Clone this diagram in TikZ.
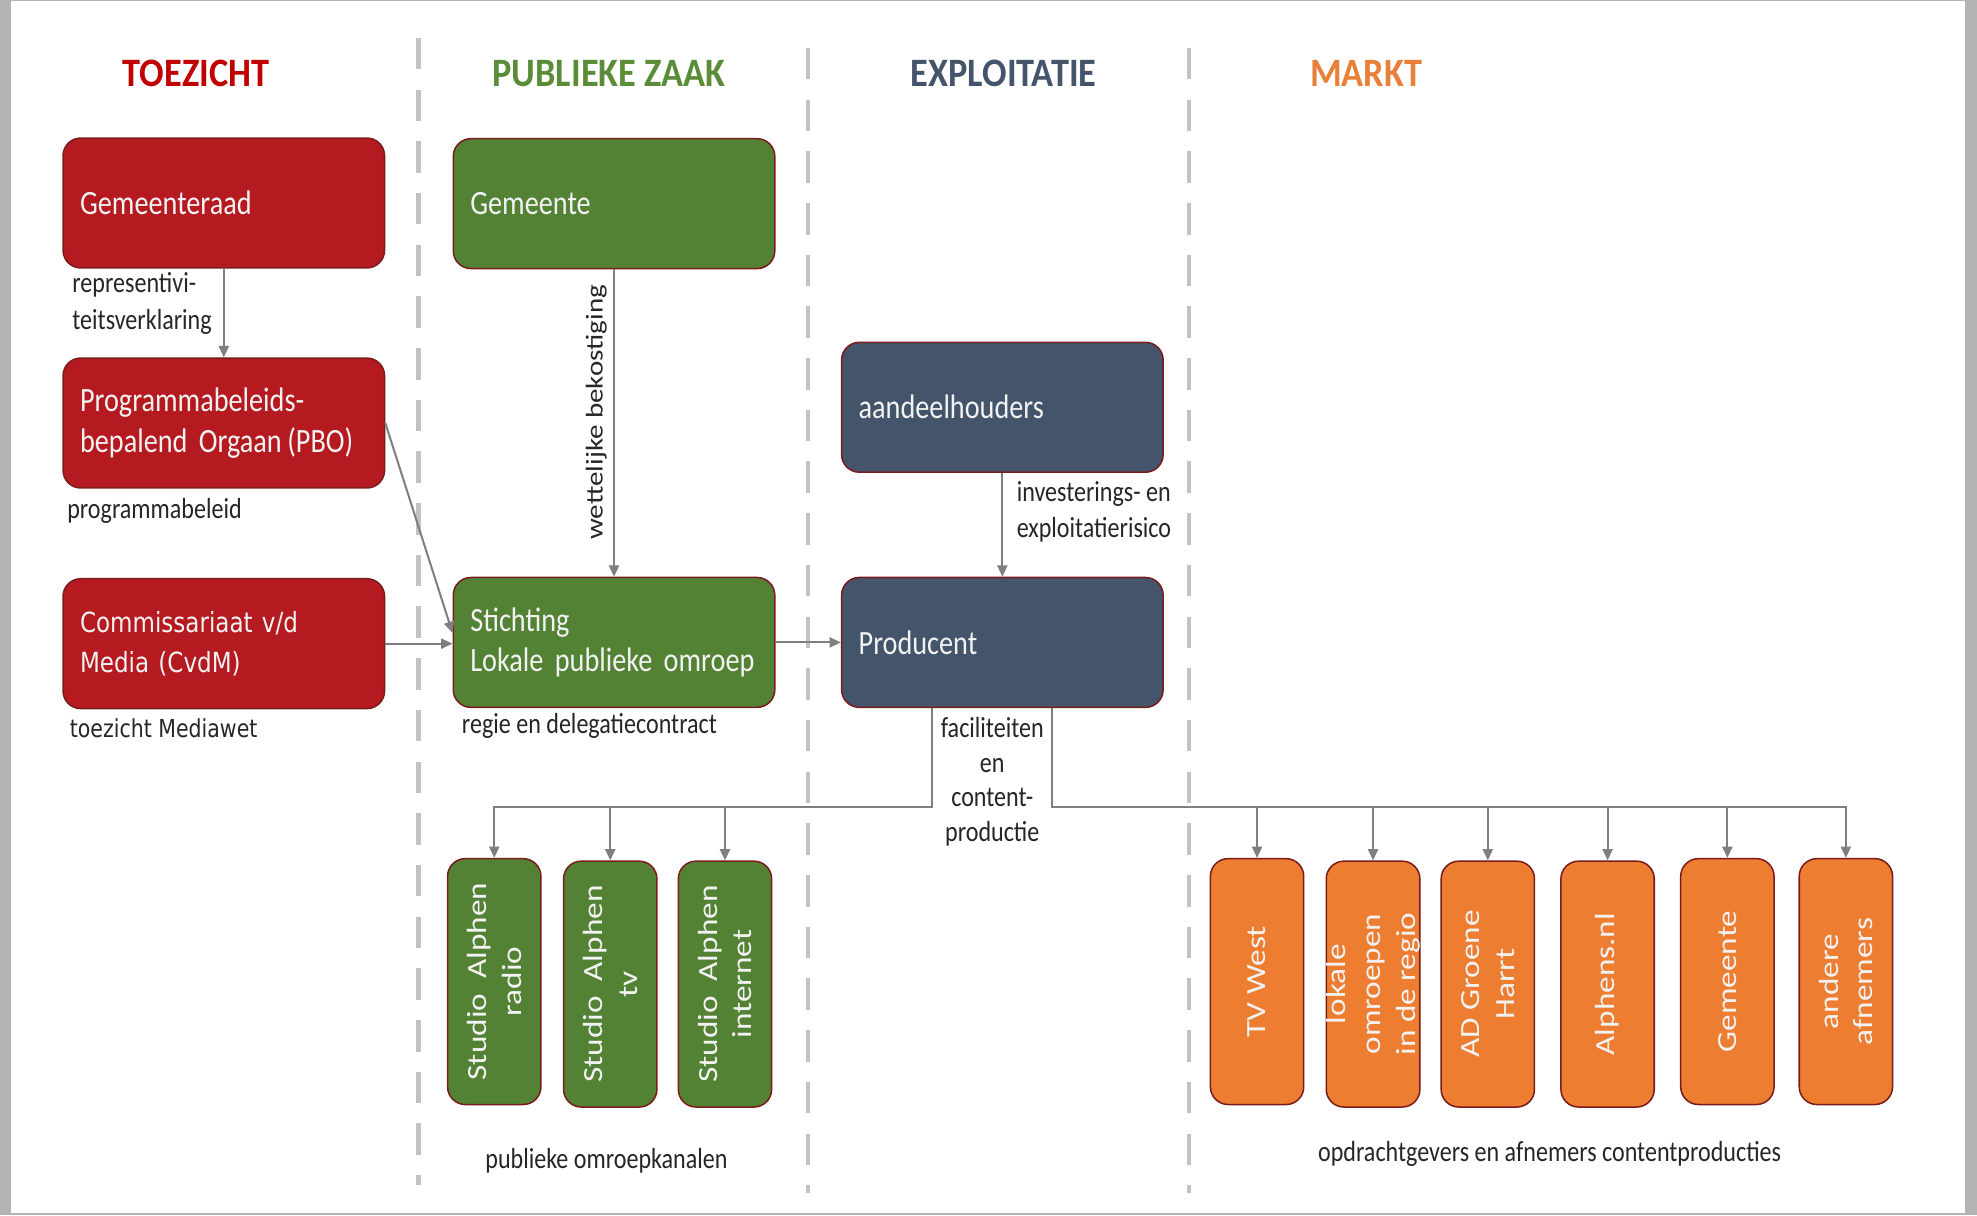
\documentclass[tikz,border=0pt]{standalone}
\usepackage{fontspec}
\usetikzlibrary{arrows.meta,calc}
\newfontfamily\bodyfont[FakeStretch=0.83]{Carlito}
\newfontfamily\headfont[FakeStretch=0.9]{Carlito}
\newfontfamily\vfont[FakeStretch=1.2]{Carlito}
\newfontfamily\cvfont[FakeStretch=0.83]{DejaVu Sans}
\DeclareRobustCommand\boxfontsel{\bodyfont\fontsize{13.5}{16}\selectfont\setlength{\spaceskip}{2.2pt}}
\definecolor{framegray}{HTML}{B3B3B3}
\definecolor{divgray}{HTML}{C2C2C2}
\definecolor{conngray}{HTML}{7F7F7F}
\definecolor{boxborder}{HTML}{7A1C1C}
\definecolor{boxtext}{HTML}{F2F2F2}
\definecolor{lbl}{HTML}{262626}
\definecolor{redfill}{HTML}{B41A1F}
\definecolor{greenfill}{HTML}{548235}
\definecolor{slatefill}{HTML}{44546A}
\definecolor{orangefill}{HTML}{ED7D31}
\definecolor{redhead}{HTML}{C00000}
\definecolor{greenhead}{HTML}{5B8C38}
\definecolor{slatehead}{HTML}{44546A}
\definecolor{orangehead}{HTML}{E8803A}
\tikzset{
  hbox/.style={draw=boxborder, line width=0.6pt, rounded corners=7pt,
    minimum width=127.5pt, minimum height=51.5pt, text width=114pt,
    inner xsep=6.75pt, inner ysep=0pt, align=left, text=boxtext,
    font=\boxfontsel},
  vbox/.style={draw=boxborder, line width=0.6pt, rounded corners=7pt, rotate=90,
    minimum width=97.5pt, minimum height=37pt, inner sep=0pt, align=center,
    text=boxtext, font=\vfont\fontsize{11}{13.8}\selectfont},
  heading/.style={font=\headfont\bfseries\fontsize{16}{19}\selectfont, inner sep=0pt},
  lab/.style={font=\bodyfont\fontsize{11.5}{14.5}\selectfont, text=lbl, inner sep=0pt, align=left},
  conn/.style={draw=conngray, line width=0.8pt},
  arr/.style={conn, -{Triangle[length=4.5pt,width=4pt]}},
  divider/.style={draw=divgray, line width=1.7pt, dash pattern=on 12.5pt off 8pt}
}
\begin{document}
\begin{tikzpicture}[x=0.5pt, y=-0.5pt]
\useasboundingbox (0,0) rectangle (1568,964);
\fill[framegray] (0,0) rectangle (1568,964);
\fill[white] (8.7,0.8) rectangle (1558.5,962);

% dividers
\draw[divider] (332,30) -- (332,940);
\draw[divider] (641,38) -- (641,946);
\draw[divider] (943,38) -- (943,946);

% headings
\node[heading, text=redhead] (h1) at (155.5,58) {TOEZICHT};
\node[heading, text=greenhead] (h2) at (483,58) {PUBLIEKE ZAAK};
\node[heading, text=slatehead] (h3) at (796,58) {EXPLOITATIE};
\node[heading, text=orangehead] (h4) at (1083.5,58) {MARKT};

% main boxes
\node[hbox, fill=redfill] (gr) at (177.5,161) {Gemeenteraad};
\node[hbox, fill=redfill] (pbo) at (177.5,335.5) {Programmabeleids-\\bepalend Orgaan\,(PBO)};
\node[hbox, fill=redfill, font=\cvfont\fontsize{11}{16}\selectfont] (cvdm) at (177.5,510.5) {Commissariaat v/d\\Media (CvdM)};
\node[hbox, fill=greenfill] (gem) at (487,161.5) {Gemeente};
\node[hbox, fill=greenfill] (st) at (487,509.5) {Stichting\\Lokale publieke omroep};
\node[hbox, fill=slatefill] (aand) at (795,323) {aandeelhouders};
\node[hbox, fill=slatefill] (prod) at (795,509.5) {Producent};

% vertical boxes
\node[vbox, fill=greenfill] (radio) at (392,778.5) {Studio\ \ Alphen\\radio};
\node[vbox, fill=greenfill] (tv) at (484,780.5) {Studio\ \ Alphen\\tv};
\node[vbox, fill=greenfill] (inet) at (575,780.5) {Studio\ \ Alphen\\internet};
\node[vbox, fill=orangefill] (tvw) at (997,778.5) {TV West};
\node[vbox, fill=orangefill] (lok) at (1089,780.5) {lokale\\omroepen\\in de regio};
\node[vbox, fill=orangefill] (ad) at (1180,780.5) {AD Groene\\Harrt};
\node[vbox, fill=orangefill] (alp) at (1275,780.5) {Alphens.nl};
\node[vbox, fill=orangefill] (gem2) at (1370,778.5) {Gemeente};
\node[vbox, fill=orangefill] (andr) at (1464,778.5) {andere\\afnemers};

% labels
\node[lab, anchor=west] (l1) at (57,240.5) {representivi-\\teitsverklaring};
\node[lab, anchor=west] (l2) at (53,405) {programmabeleid};
\node[lab, anchor=west, font=\cvfont\fontsize{9.8}{12}\selectfont] (l3) at (55,578) {toezicht Mediawet};
\node[lab, rotate=90, font=\vfont\fontsize{9.6}{12}\selectfont] (l4) at (473,327) {wettelijke bekostiging};
\node[lab, anchor=west] (l5) at (366,576) {regie en delegatiecontract};
\node[lab, anchor=west] (l6) at (806,406) {investerings- en\\exploitatierisico};
\node[lab, align=center, font=\bodyfont\fontsize{11.5}{13.8}\selectfont] (l7) at (787,620) {faciliteiten\\en\\content-\\productie};
\node[lab, align=center] (l8) at (481,921) {publieke omroepkanalen};
\node[lab, align=center] (l9) at (1229,915) {opdrachtgevers en afnemers contentproducties};

% connectors
\draw[arr] (gr.south) -- (pbo.north);
\draw[arr] (pbo.east) -- ([yshift=3.75pt]st.west);
\draw[arr] (cvdm.east) -- (cvdm.east -| st.west);
\draw[arr] (gem.south) -- (st.north);
\draw[arr] (st.east) -- (prod.west);
\draw[arr] (aand.south) -- (prod.north);

\coordinate (bl) at (739,640);
\coordinate (br) at (834,640);
\draw[arr] (prod.south -| bl) -- (bl) -| (radio.east);
\draw[arr] (tv.east |- bl) -- (tv.east);
\draw[arr] (inet.east |- bl) -- (inet.east);
\draw[arr] (prod.south -| br) -- (br) -| (andr.east);
\draw[arr] (tvw.east |- br) -- (tvw.east);
\draw[arr] (lok.east |- br) -- (lok.east);
\draw[arr] (ad.east |- br) -- (ad.east);
\draw[arr] (alp.east |- br) -- (alp.east);
\draw[arr] (gem2.east |- br) -- (gem2.east);
\end{tikzpicture}
\end{document}
